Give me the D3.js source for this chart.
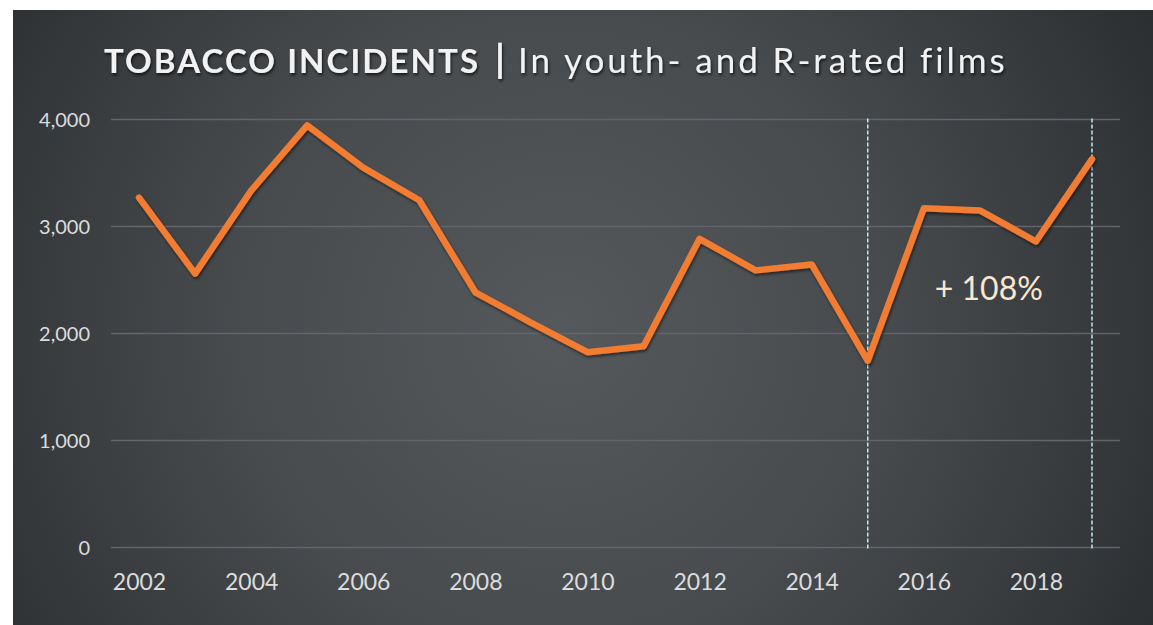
<!DOCTYPE html>
<html>
<head>
<meta charset="utf-8">
<script src="https://cdn.jsdelivr.net/npm/d3@7"></script>
<style>
  html, body { margin: 0; padding: 0; background: #ffffff; }
  svg { display: block; }
</style>
</head>
<body>
<svg id="chart" width="1153" height="625"></svg>
<script>
// Tobacco incidents in youth- and R-rated films, 2002–2019
const years = [2002, 2003, 2004, 2005, 2006, 2007, 2008, 2009, 2010,
               2011, 2012, 2013, 2014, 2015, 2016, 2017, 2018, 2019];
const incidents = [3270, 2560, 3335, 3945, 3550, 3245, 2385, 2100, 1825,
                   1880, 2885, 2590, 2645, 1745, 3170, 3150, 2860, 3630];
const yTicks = [0, 1000, 2000, 3000, 4000];
const xTickYears = [2002, 2004, 2006, 2008, 2010, 2012, 2014, 2016, 2018];
const markerYears = [2015, 2019];
const changeLabel = "+ 108%";

const svg = d3.select("#chart");
const W = 1153, H = 625;
const font = "Lato, 'Open Sans', sans-serif";

const defs = svg.append("defs");
const bg = defs.append("radialGradient")
  .attr("id", "bg").attr("gradientUnits", "userSpaceOnUse")
  .attr("cx", 560).attr("cy", 330).attr("r", 720)
  .attr("fx", 560).attr("fy", 330);
bg.append("stop").attr("offset", 0).attr("stop-color", "#55595c");
bg.append("stop").attr("offset", 0.45).attr("stop-color", "#474b4e");
bg.append("stop").attr("offset", 0.8).attr("stop-color", "#33373a");
bg.append("stop").attr("offset", 1).attr("stop-color", "#262a2d");

const shadow = defs.append("filter").attr("id", "shadow")
  .attr("x", "-10%").attr("y", "-10%").attr("width", "120%").attr("height", "130%");
shadow.append("feDropShadow").attr("dx", 1).attr("dy", 2).attr("stdDeviation", 1.6)
  .attr("flood-color", "#000").attr("flood-opacity", 0.55);

const textShadow = defs.append("filter").attr("id", "textShadow")
  .attr("x", "-5%").attr("y", "-20%").attr("width", "110%").attr("height", "150%");
textShadow.append("feDropShadow").attr("dx", 1).attr("dy", 2).attr("stdDeviation", 1.5)
  .attr("flood-color", "#000").attr("flood-opacity", 0.7);

// panel
svg.append("rect").attr("x", 13).attr("y", 10).attr("width", W - 13).attr("height", H - 10)
  .attr("fill", "url(#bg)");

// scales
const x = d3.scalePoint().domain(years).range([111, 1120]).padding(0.5);
const y = d3.scaleLinear().domain([0, 4000]).range([547.5, 119.5]);

// gridlines
svg.append("g").selectAll("line").data(yTicks).join("line")
  .attr("x1", 111).attr("x2", 1120)
  .attr("y1", d => y(d)).attr("y2", d => y(d))
  .attr("stroke", "#62666a").attr("stroke-width", 1.5);

// y axis labels
const yAxis = d3.axisLeft(y).tickValues(yTicks).tickFormat(d3.format(",")).tickSize(0).tickPadding(0);
const gy = svg.append("g").attr("transform", "translate(90,0)").call(yAxis);
gy.select(".domain").remove();
gy.selectAll("text").attr("fill", "#dcdcdc").attr("font-family", font)
  .attr("font-size", 20).attr("dy", "0.36em");

// x axis labels
const xAxis = d3.axisBottom(x).tickValues(xTickYears).tickSize(0).tickPadding(0);
const gx = svg.append("g").attr("transform", "translate(0,590)").call(xAxis);
gx.select(".domain").remove();
gx.selectAll("text").attr("fill", "#dcdcdc").attr("font-family", font)
  .attr("font-size", 23).attr("dy", 0);

// dashed marker lines
svg.append("g").selectAll("line").data(markerYears).join("line")
  .attr("x1", d => x(d)).attr("x2", d => x(d))
  .attr("y1", y(4000) - 1).attr("y2", y(0) + 1)
  .attr("stroke", "#c2e6f2").attr("stroke-width", 1.5)
  .attr("stroke-dasharray", "4,2");

// series line
const line = d3.line().x((d, i) => x(years[i])).y(d => y(d));
svg.append("path").datum(incidents)
  .attr("d", line)
  .attr("fill", "none")
  .attr("stroke", "#f27b30")
  .attr("stroke-width", 6.5)
  .attr("stroke-linejoin", "round")
  .attr("stroke-linecap", "round")
  .attr("filter", "url(#shadow)");

// change annotation
svg.append("text")
  .attr("x", (x(2015) + x(2019)) / 2 + 9).attr("y", 300)
  .attr("text-anchor", "middle")
  .attr("fill", "#fbe6cf").attr("font-family", font).attr("font-size", 32)
  .text(changeLabel);

// title: bold heading, bar separator, regular subheading
const title = svg.append("text").attr("y", 73).attr("fill", "#f2f2f2")
  .attr("font-family", font).attr("filter", "url(#textShadow)");
const boldText = "TOBACCO INCIDENTS";
const subText = "In youth- and R-rated films";
const tBold = title.append("tspan").attr("font-weight", 700).attr("font-size", 33)
  .attr("x", 104).text(boldText);
const tBar = title.append("tspan").attr("font-weight", 700).attr("font-size", 38)
  .attr("x", 495).text("|");
const tSub = title.append("tspan").attr("font-weight", 400).attr("font-size", 35)
  .attr("x", 518).text(subText);

// spread letters so each part spans its width
function spread(tspan, text, width) {
  const w = tspan.node().getComputedTextLength();
  if (w < width) tspan.attr("letter-spacing", (width - w) / (text.length - 1));
}
spread(tBold, boldText, 374);
spread(tSub, subText, 486);
</script>
</body>
</html>
